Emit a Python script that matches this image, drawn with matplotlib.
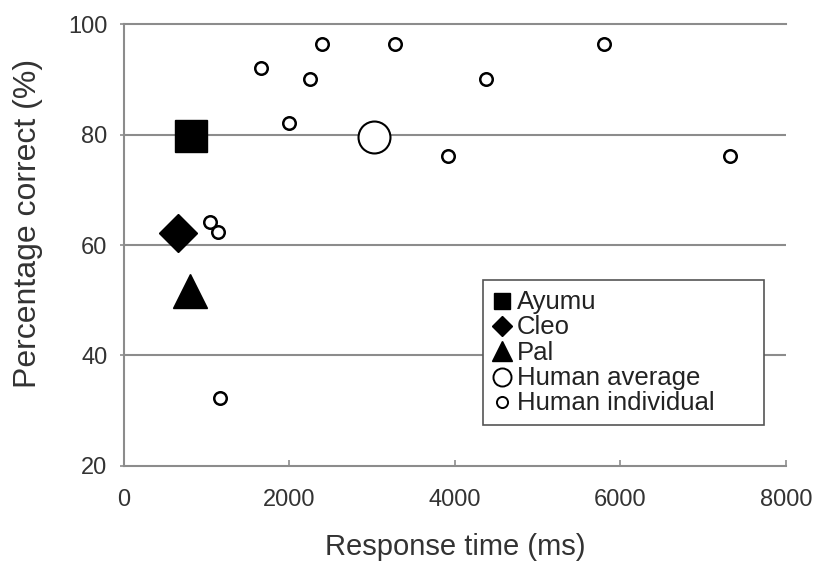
import matplotlib
matplotlib.use("Agg")
import matplotlib.pyplot as plt
from matplotlib.lines import Line2D

plt.rcParams['font.family'] = ['Liberation Sans', 'DejaVu Sans']

# chimpanzees
chimp_names = ["Ayumu", "Cleo", "Pal"]
chimp_rt = [810, 655, 800]
chimp_pc = [79.8, 62.2, 51.7]
chimp_markers = ["s", "D", "^"]
chimp_sizes = [23, 19, 25]

# humans
human_avg_rt = [3020]
human_avg_pc = [79.6]
human_rt = [1040, 1130, 1155, 1650, 1995, 2250, 2390, 3280, 3910, 4370, 5800, 7320]
human_pc = [64.1, 62.3, 32.2, 92.1, 82.1, 90.2, 96.4, 96.4, 76.1, 90.2, 96.4, 76.1]

grid_col = "#8c8c8c"
text_col = "#333333"

fig = plt.figure(figsize=(8.19, 5.75), dpi=100)
ax = fig.add_axes([0.1514, 0.1904, 0.8083, 0.767])

for y in [40, 60, 80]:
    ax.axhline(y, color=grid_col, lw=1.5, zorder=1)

for name, x, y, m, s in zip(chimp_names, chimp_rt, chimp_pc, chimp_markers, chimp_sizes):
    ax.plot(x, y, marker=m, ms=s, color="black", ls="none", zorder=3)

ax.plot(human_avg_rt, human_avg_pc, "o", ms=23, mfc="white", mec="black", mew=1.5, zorder=3)
ax.plot(human_rt, human_pc, "o", ms=9, mfc="white", mec="black", mew=1.8, zorder=3)

ax.set_xlim(0, 8000)
ax.set_ylim(20, 100)
ax.set_xticks([0, 2000, 4000, 6000, 8000])
ax.set_yticks([20, 40, 60, 80, 100])
ax.tick_params(axis="both", labelsize=17, colors=grid_col, length=4, width=1.2,
               labelcolor=text_col)
ax.tick_params(axis="x", direction="in", pad=17)
ax.tick_params(axis="y", direction="out", length=3, pad=9)
for side in ["left", "bottom", "top"]:
    ax.spines[side].set_color(grid_col)
    ax.spines[side].set_linewidth(1.5)
ax.spines["right"].set_visible(False)

ax.set_xlabel("Response time (ms)", fontsize=21, color=text_col, labelpad=16)
ax.set_ylabel("Percentage correct (%)", fontsize=23, color=text_col)
ax.yaxis.set_label_coords(-0.122, 0.55)

handles = [
    Line2D([], [], marker="s", ms=12, color="black", ls="none"),
    Line2D([], [], marker="D", ms=10, color="black", ls="none"),
    Line2D([], [], marker="^", ms=14, color="black", ls="none"),
    Line2D([], [], marker="o", ms=13, mfc="white", mec="black", mew=1.4, ls="none"),
    Line2D([], [], marker="o", ms=8, mfc="white", mec="black", mew=1.4, ls="none"),
]
labels = chimp_names + ["Human average", "Human individual"]
leg = ax.legend(handles, labels, loc="upper left",
                bbox_to_anchor=(0.542, 0.092, 0.425, 0.328), mode="expand",
                fontsize=18.5, frameon=True, fancybox=False, handlelength=0.7,
                handletextpad=0.25, labelspacing=0.05, borderpad=0.38,
                borderaxespad=0, handleheight=0.5)
leg.get_frame().set_edgecolor("#555555")
leg.get_frame().set_linewidth(1.2)
leg.get_frame().set_alpha(1)
for t in leg.get_texts():
    t.set_color("#222222")

fig.savefig("out.png", dpi=100)
